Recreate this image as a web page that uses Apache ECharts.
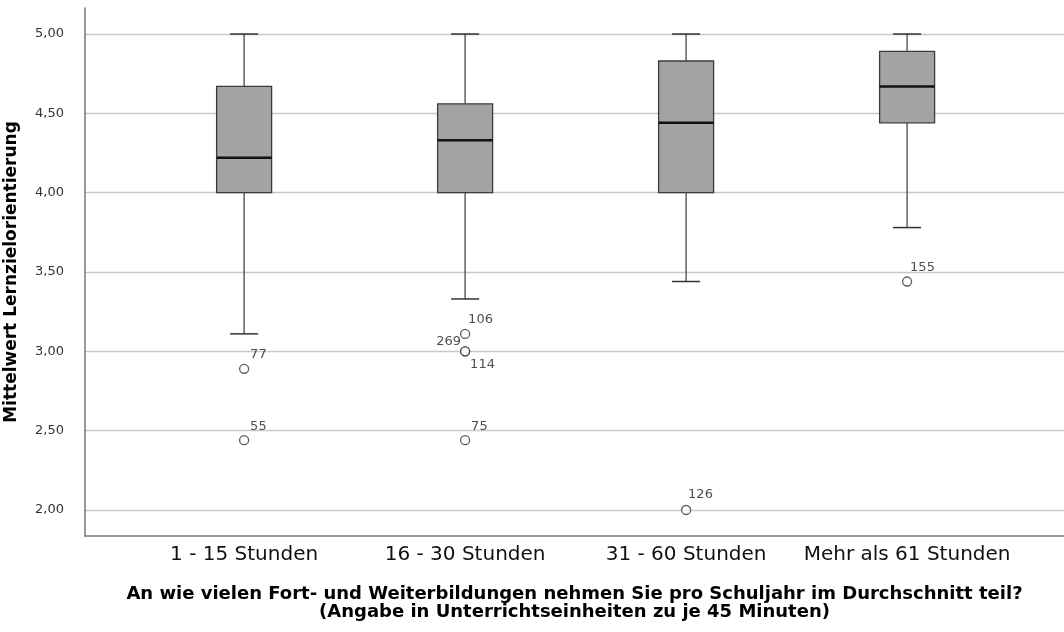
<!DOCTYPE html>
<html>
<head>
<meta charset="utf-8">
<script src="https://cdn.jsdelivr.net/npm/echarts@6/dist/echarts.min.js"></script>
<style>html,body{margin:0;padding:0;background:#fff;}#c{width:1064px;height:632px;}</style>
</head>
<body>
<div id="c"></div>
<script>
var categories = ['1 - 15 Stunden', '16 - 30 Stunden', '31 - 60 Stunden', 'Mehr als 61 Stunden'];
var whiskerLow = [3.11, 3.33, 3.44, 3.78];
var q1 = [4.00, 4.00, 4.00, 4.44];
var median = [4.22, 4.33, 4.44, 4.67];
var q3 = [4.67, 4.56, 4.83, 4.89];
var whiskerHigh = [5.00, 5.00, 5.00, 5.00];
var outlierCat = [0, 0, 1, 1, 1, 1, 2, 3];
var outlierVal = [2.89, 2.44, 3.11, 3.00, 3.00, 2.44, 2.00, 3.44];
var outlierId = ['77', '55', '106', '269', '114', '75', '126', '155'];
var yTicks = [2.0, 2.5, 3.0, 3.5, 4.0, 4.5, 5.0];
var yTitle = 'Mittelwert Lernzielorientierung';
var xTitle = 'An wie vielen Fort- und Weiterbildungen nehmen Sie pro Schuljahr im Durchschnitt teil?\n(Angabe in Unterrichtseinheiten zu je 45 Minuten)';

var labelStyle = {
  '269': {offset: [-4, -10], align: 'right'},
  '114': {offset: [5, 13], align: 'left'},
  '126': {offset: [2, -15], align: 'left'},
  '106': {offset: [3, -14], align: 'left'},
  '155': {offset: [3, -14], align: 'left'}
};

var boxData = categories.map(function (c, i) {
  return [i, whiskerLow[i], q1[i], median[i], q3[i], whiskerHigh[i]];
});
var outData = outlierCat.map(function (c, i) {
  var s = labelStyle[outlierId[i]] || {offset: [6, -14], align: 'left'};
  return {
    value: [c, outlierVal[i]],
    label: {show: true, formatter: outlierId[i], position: 'inside', offset: s.offset, align: s.align}
  };
});

var chart = echarts.init(document.getElementById('c'));
chart.setOption({
  animation: false,
  grid: {left: 85, right: 0, top: 8, bottom: 96, outerBoundsMode: 'none', containLabel: false},
  xAxis: {
    type: 'value', min: -0.72, max: 3.71,
    axisLine: {show: true, onZero: false, lineStyle: {color: '#777', width: 1.5}},
    axisTick: {show: false},
    splitLine: {show: false},
    axisLabel: {
      customValues: [0, 1, 2, 3], margin: 9,
      formatter: function (v) { return categories[Math.round(v)]; },
      fontFamily: 'DejaVu Sans', fontSize: 20, color: '#111'
    },
    name: xTitle, nameLocation: 'middle', nameGap: 49,
    nameTextStyle: {fontFamily: 'DejaVu Sans', fontWeight: 'bold', fontSize: 18, color: '#000', lineHeight: 18}
  },
  yAxis: {
    type: 'value', min: 1.836, max: 5.164,
    axisLine: {show: true, onZero: false, lineStyle: {color: '#777', width: 1.5}},
    axisTick: {show: false, customValues: yTicks},
    splitLine: {show: true, lineStyle: {color: '#c8c8c8', width: 1.3}},
    axisLabel: {
      customValues: yTicks, margin: 21,
      formatter: function (v) { return v.toFixed(2).replace('.', ','); },
      fontFamily: 'DejaVu Sans', fontSize: 13, color: '#333'
    },
    name: yTitle, nameLocation: 'middle', nameGap: 65, nameRotate: 90,
    nameTextStyle: {fontFamily: 'DejaVu Sans', fontWeight: 'bold', fontSize: 17, color: '#000'}
  },
  series: [
    {
      type: 'custom',
      data: boxData,
      renderItem: function (params, api) {
        var x = api.value(0);
        var pLow = api.coord([x, api.value(1)]);
        var pQ1 = api.coord([x, api.value(2)]);
        var pMed = api.coord([x, api.value(3)]);
        var pQ3 = api.coord([x, api.value(4)]);
        var pHigh = api.coord([x, api.value(5)]);
        var cx = pLow[0];
        var hw = 27.5, cw = 14;
        var wStyle = {stroke: '#555', lineWidth: 1.4};
        return {
          type: 'group',
          children: [
            {type: 'line', shape: {x1: cx, y1: pLow[1], x2: cx, y2: pQ1[1]}, style: wStyle},
            {type: 'line', shape: {x1: cx, y1: pQ3[1], x2: cx, y2: pHigh[1]}, style: wStyle},
            {type: 'line', shape: {x1: cx - cw, y1: pLow[1], x2: cx + cw, y2: pLow[1]}, style: {stroke: '#333', lineWidth: 1.5}},
            {type: 'line', shape: {x1: cx - cw, y1: pHigh[1], x2: cx + cw, y2: pHigh[1]}, style: {stroke: '#333', lineWidth: 1.5}},
            {type: 'rect', shape: {x: cx - hw, y: pQ3[1], width: 2 * hw, height: pQ1[1] - pQ3[1]}, style: {fill: '#a3a3a3', stroke: '#3c3c3c', lineWidth: 1.3}},
            {type: 'line', shape: {x1: cx - hw, y1: pMed[1], x2: cx + hw, y2: pMed[1]}, style: {stroke: '#111', lineWidth: 2.5}}
          ]
        };
      }
    },
    {
      type: 'scatter',
      data: outData,
      symbol: 'circle', symbolSize: 9,
      itemStyle: {color: '#fff', borderColor: '#333', borderWidth: 1.3},
      label: {fontFamily: 'DejaVu Sans', fontSize: 13, color: '#222', verticalAlign: 'middle'}
    }
  ]
});
</script>
</body>
</html>
